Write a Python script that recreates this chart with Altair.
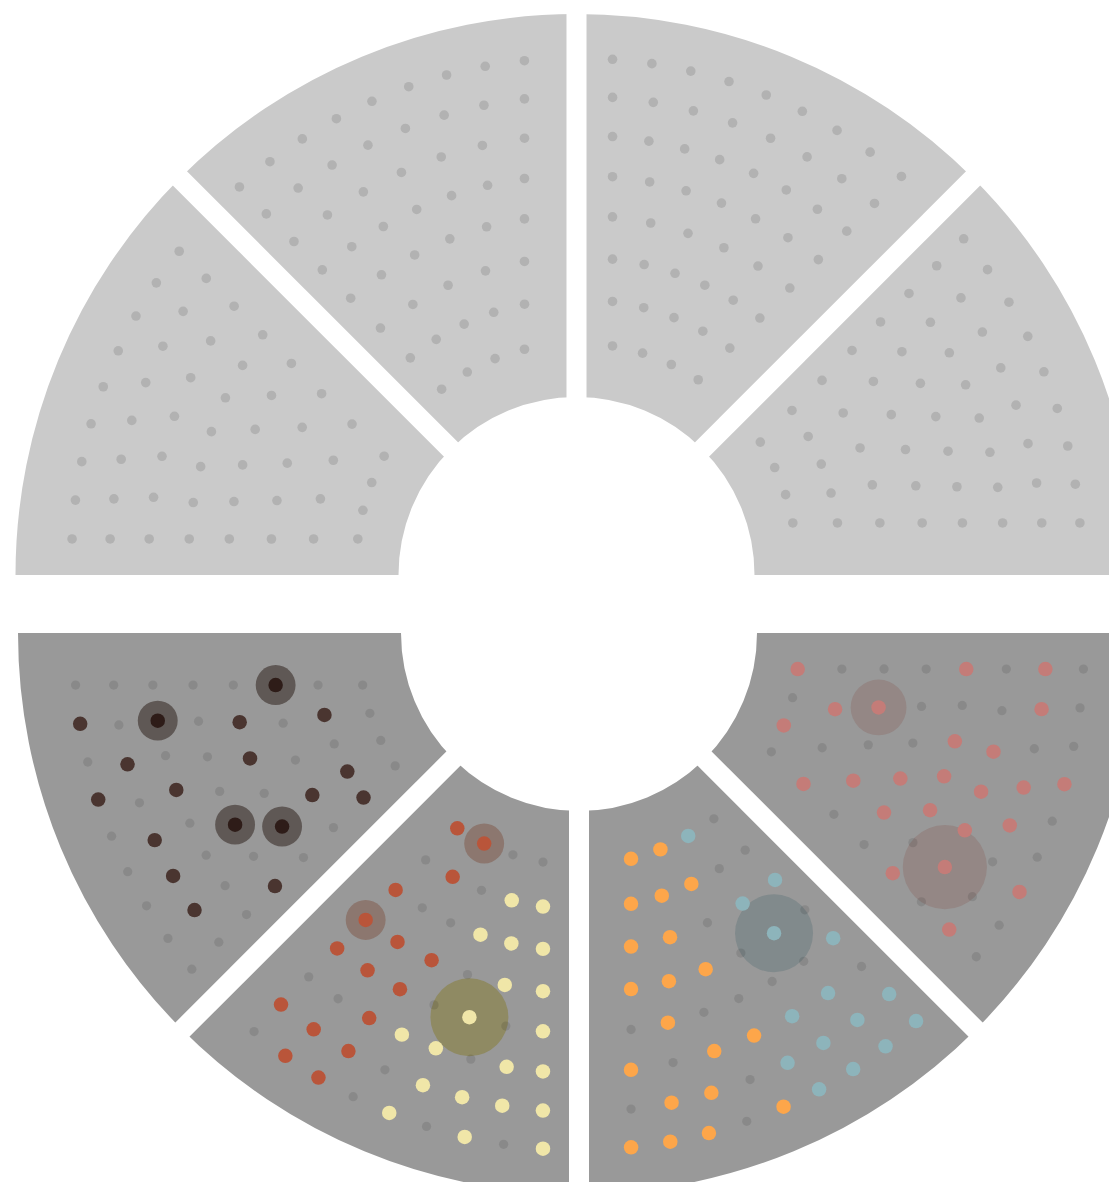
import math
import numpy as np
import pandas as pd
import altair as alt

# ---------------- data ----------------
# sectors, clockwise from 9 o'clock: 4 in the upper half ring, 4 in the lower half ring
sector_start_deg = [180, 135, 90, 45, 0, -45, -90, -135]

# upper half: every unit is plain grey; units per ring (outer ring first)
top_ring_counts = [
    [9, 8, 7, 7, 6, 5, 4, 4],
    [9, 8, 7, 7, 6, 5, 5, 4],
    [9, 8, 8, 7, 6, 6, 5, 4],
    [9, 8, 8, 7, 6, 5, 5, 4],
]

# lower half: category of each unit, ring by ring (outer ring first), in clockwise order
# g = grey, lowercase = coloured unit, uppercase = highlighted unit
bottom_rings = [
    ["gggpggpgg", "ppgppggp", "ggpppPg", "pgpppgp", "gggppg", "gPgpg", "gpgp", "pgpg"],
    ["bbbbogooo", "bbbbgoog", "gbboogo", "bggggog", "gBgooo", "bbgoo", "ggooo", "gboo"],
    ["ygygygrrg", "yyyygrrr", "yygyyrgg", "ygYgrrr", "yygrrR", "yyyggr", "yygrg", "ggRr"],
    ["gggggngng", "gnnngngg", "ggggngNg", "ngNgggg", "gNgnng", "gnggN", "nngng", "gggg"],
]
# diameter of the halo around each highlighted unit, in reading order
halo_diam = [[95, 63], [88], [88, 45, 45], [45, 45, 45, 45]]

# ---------------- styling / geometry ----------------
W, H = 1101, 1174
OFF = 8
top_center = (576.5, 575.0)
bottom_center = (579.0, 633.0)
top_dot_center = (576.5, 563.0)
bottom_dot_center = (579.0, 645.0)
R_OUT, R_IN = 561, 178
GAP = 20
ring_r = [505, 467, 428, 388, 348, 306, 264, 220]
M0, M1 = 36, 52

dot_color = {"p": "#c47c78", "o": "#fda64a", "b": "#8db4bb", "r": "#b9553a",
             "y": "#f0e6a8", "n": "#4a3530"}
hi_color = {"P": "#c47c78", "O": "#fda64a", "B": "#8db4bb", "R": "#b9553a",
            "Y": "#f0e6a8", "N": "#2e1c18"}
halo_color = {"P": "#948785", "B": "#818a8c", "Y": "#8f8a63", "R": "#8c776f", "N": "#5f5855"}


def ring_positions(center, dcenter, start_deg, r, n):
    cx, cy = center
    dx0, dy0 = dcenter
    es = math.radians(start_deg)
    ee = math.radians(start_deg - 45)
    a = np.radians(np.linspace(start_deg + 15, start_deg - 60, 7501))
    px = dx0 + r * np.cos(a) - cx
    py = -((dy0 - r * np.sin(a)) - cy)
    s0 = -(np.cos(es) * py - np.sin(es) * px)
    s1 = np.cos(ee) * py - np.sin(ee) * px
    ok = (s0 >= M0) & (s1 >= M1)
    a_first, a_last = a[ok].max(), a[ok].min()
    angs = np.linspace(a_first, a_last, n) if n > 1 else np.array([a_first])
    return [(dx0 + r * math.cos(t), dy0 - r * math.sin(t)) for t in angs]


# arcs
arc_rows = []
for k, s in enumerate(sector_start_deg):
    c = top_center if k < 4 else bottom_center
    t1 = math.pi / 2 - math.radians(s)
    arc_rows.append({"cx": c[0] - OFF, "cy": c[1] - OFF, "t1": t1, "t2": t1 + math.pi / 4,
                     "fill": "#cacaca" if k < 4 else "#999999"})
arc_df = pd.DataFrame(arc_rows)

# white gaps between sectors
rule_rows = []
for k in range(8):
    s = sector_start_deg[k]
    if s in (180, 0):
        continue
    c = top_center if k < 4 else bottom_center
    L = 620
    rule_rows.append({"x": c[0] - OFF, "y": c[1] - OFF,
                      "x2": c[0] + L * math.cos(math.radians(s)) - OFF,
                      "y2": c[1] - L * math.sin(math.radians(s)) - OFF})
rule_df = pd.DataFrame(rule_rows)

grey_rows, col_rows, halo_rows = [], [], []
for k in range(8):
    s = sector_start_deg[k]
    if k < 4:
        rings = ["g" * n for n in top_ring_counts[k]]
        c, dc = top_center, top_dot_center
    else:
        rings = bottom_rings[k - 4]
        c, dc = bottom_center, bottom_dot_center
    hi = 0
    for ri, cats in enumerate(rings):
        pos = ring_positions(c, dc, s, ring_r[ri], len(cats))
        for ch, (x, y) in zip(cats, pos):
            x -= OFF
            y -= OFF
            if ch == "g":
                if k < 4:
                    grey_rows.append({"x": x, "y": y, "fill": "#b2b2b2", "size": 92, "op": 1.0})
                else:
                    grey_rows.append({"x": x, "y": y, "fill": "#000000", "size": 86, "op": 0.1})
            elif ch.islower():
                col_rows.append({"x": x, "y": y, "fill": dot_color[ch], "size": 210, "op": 1.0})
            else:
                d = halo_diam[k - 4][hi]
                hi += 1
                halo_rows.append({"x": x, "y": y, "fill": halo_color[ch],
                                  "size": math.pi * (d / 2) ** 2, "op": 1.0})
                col_rows.append({"x": x, "y": y, "fill": hi_color[ch], "size": 210, "op": 1.0})

extra_df = pd.DataFrame([{"x": 1083 - OFF, "y": 1233 - OFF, "fill": "#dddddd",
                          "size": math.pi * 53 ** 2, "op": 1.0}])

xs = alt.Scale(domain=[0, W], range=[0, W])
ys = alt.Scale(domain=[0, H], range=[0, H])

arcs = alt.Chart(arc_df).mark_arc().encode(
    x=alt.X("cx:Q", scale=xs, axis=None),
    y=alt.Y("cy:Q", scale=ys, axis=None),
    theta=alt.Theta("t1:Q", scale=None),
    theta2=alt.Theta2("t2:Q"),
    radius=alt.value(R_OUT),
    radius2=alt.value(R_IN),
    color=alt.Color("fill:N", scale=None),
)

rules = alt.Chart(rule_df).mark_rule(color="white", strokeWidth=GAP).encode(
    x=alt.X("x:Q", scale=xs, axis=None),
    y=alt.Y("y:Q", scale=ys, axis=None),
    x2="x2:Q",
    y2="y2:Q",
)


def circles(df):
    return alt.Chart(pd.DataFrame(df)).mark_circle(strokeWidth=0).encode(
        x=alt.X("x:Q", scale=xs, axis=None),
        y=alt.Y("y:Q", scale=ys, axis=None),
        size=alt.Size("size:Q", scale=None, legend=None),
        color=alt.Color("fill:N", scale=None),
        opacity=alt.Opacity("op:Q", scale=None, legend=None),
    )


chart = alt.layer(
    arcs, rules, circles(halo_rows), circles(grey_rows), circles(col_rows), circles(extra_df)
).properties(
    width=W, height=H, padding=0,
    autosize=alt.AutoSizeParams(type="none"),
).configure_view(stroke=None)

chart.save("out.html", embed_options={"renderer": "svg", "actions": False})
